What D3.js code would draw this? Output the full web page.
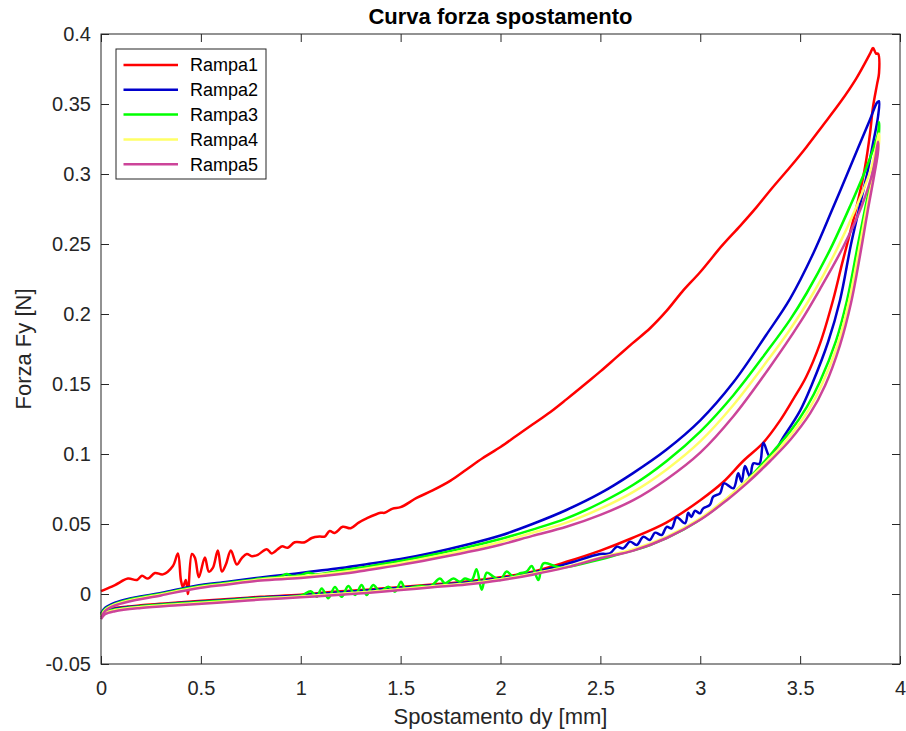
<!DOCTYPE html>
<html>
<head>
<meta charset="utf-8">
<script src="https://cdn.jsdelivr.net/npm/d3@7"></script>
<style>
  body { margin: 0; background: #fff; }
  svg { font-family: "Liberation Sans", Arial, Helvetica, sans-serif; }
</style>
</head>
<body>
<div class="vis-forza"></div>
<script>
// data: [dy mm, Fy N], loading branch then unloading branch
const rampa1 = [
  [0,0.002],[0.07,0.0064],[0.135,0.011],[0.18,0.010],[0.205,0.013],[0.235,0.011],[0.27,0.015],[0.31,0.014],
  [0.36,0.020],[0.385,0.029],[0.40,0.010],[0.41,0.005],[0.425,0.010],[0.435,0.0],[0.455,0.0286],[0.47,0.026],
  [0.49,0.012],[0.52,0.026],[0.54,0.016],[0.56,0.0186],[0.585,0.031],[0.605,0.016],[0.625,0.021],[0.65,0.031],
  [0.68,0.021],[0.705,0.0257],[0.73,0.0286],[0.755,0.027],[0.785,0.028],[0.83,0.032],[0.855,0.029],[0.905,0.034],
  [0.935,0.033],[0.97,0.037],[1.02,0.037],[1.055,0.040],[1.095,0.041],[1.12,0.041],[1.145,0.045],[1.17,0.0436],
  [1.21,0.048],[1.25,0.047],[1.29,0.051],[1.33,0.054],[1.40,0.058],[1.42,0.058],[1.46,0.061],[1.50,0.062],
  [1.58,0.0686],[1.66,0.074],[1.75,0.081],[1.83,0.089],[1.91,0.097],[2.00,0.105],[2.08,0.113],[2.16,0.121],
  [2.25,0.130],[2.33,0.139],[2.45,0.153],[2.50,0.159],[2.58,0.169],[2.66,0.179],[2.75,0.190],[2.83,0.202],
  [2.91,0.216],[3.00,0.230],[3.11,0.249],[3.20,0.263],[3.28,0.276],[3.36,0.290],[3.45,0.305],[3.53,0.319],
  [3.61,0.334],[3.70,0.351],[3.78,0.368],[3.85,0.386],[3.865,0.390],[3.88,0.386],[3.89,0.386],
  [3.895,0.372],[3.885,0.364],[3.865,0.348],[3.85,0.329],[3.825,0.305],[3.79,0.281],[3.75,0.258],[3.71,0.236],
  [3.665,0.210],[3.60,0.179],[3.53,0.155],[3.465,0.139],[3.40,0.124],[3.315,0.108],[3.215,0.095],[3.115,0.080],
  [3.00,0.067],[2.83,0.051],[2.66,0.040],[2.50,0.031],[2.33,0.023],[2.16,0.016],[2.0,0.012],[1.83,0.009],
  [1.66,0.0068],[1.5,0.005],[1.33,0.003],[1.2,0.002],[1.0,-0.0005],[0.8,-0.002],[0.6,-0.004],[0.385,-0.006],
  [0.2,-0.008],[0.135,-0.009],[0.07,-0.010],[0.02,-0.012],[0,-0.0145]
];
const rampa2 = [
  [0,-0.014],[0.02,-0.010],[0.07,-0.0062],[0.135,-0.0035],[0.3,0.0008],[0.47,0.0058],[0.635,0.0088],[0.8,0.0118],
  [0.97,0.0145],[1.2,0.0185],[1.33,0.0212],[1.5,0.025],[1.66,0.0295],[1.83,0.0352],[2.0,0.0418],[2.16,0.050],
  [2.33,0.060],[2.5,0.072],[2.66,0.086],[2.83,0.103],[3.0,0.124],[3.165,0.151],[3.33,0.185],[3.45,0.211],
  [3.565,0.243],[3.665,0.276],[3.765,0.310],[3.85,0.339],[3.885,0.351],[3.895,0.352],
  [3.89,0.341],[3.865,0.322],[3.835,0.30],[3.795,0.275],[3.755,0.25],[3.70,0.21],[3.64,0.18],[3.56,0.15],
  [3.50,0.131],[3.416,0.112],[3.35,0.098],[3.316,0.108],[3.296,0.093],[3.266,0.0933],[3.249,0.0838],[3.224,0.0914],
  [3.207,0.0802],[3.19,0.0862],[3.166,0.0755],[3.119,0.079],[3.099,0.0719],[3.065,0.0695],[3.048,0.0636],[3.015,0.0612],
  [2.998,0.0576],[2.974,0.0595],[2.955,0.055],[2.94,0.058],[2.924,0.0505],[2.882,0.0548],[2.857,0.0469],[2.832,0.048],
  [2.807,0.0421],[2.774,0.0438],[2.748,0.0386],[2.715,0.0409],[2.682,0.035],[2.648,0.0374],[2.615,0.0326],[2.582,0.0338],
  [2.548,0.029],[2.498,0.0285],[2.33,0.0215],[2.16,0.0152],[2.0,0.0112],[1.83,0.0082],[1.66,0.0062],[1.5,0.0045],
  [1.33,0.0025],[1.2,0.0013],[1.0,-0.001],[0.8,-0.0025],[0.6,-0.0045],[0.385,-0.0065],[0.2,-0.0085],[0.07,-0.0105],
  [0.02,-0.0125],[0,-0.015]
];
const rampa3 = [
  [0,-0.015],[0.02,-0.0108],[0.07,-0.007],[0.135,-0.0042],[0.3,0.0002],[0.47,0.005],[0.635,0.008],[0.8,0.011],
  [0.9,0.0125],[0.93,0.0142],[0.96,0.0128],[1.0,0.0136],[1.04,0.0152],[1.07,0.0140],[1.2,0.0168],[1.33,0.0195],
  [1.5,0.0235],[1.66,0.028],[1.83,0.0333],[2.0,0.0393],[2.16,0.046],[2.33,0.054],[2.5,0.065],[2.665,0.078],
  [2.832,0.095],[3.0,0.116],[3.166,0.142],[3.333,0.173],[3.45,0.196],[3.533,0.215],[3.65,0.246],[3.75,0.277],
  [3.833,0.305],[3.89,0.329],[3.895,0.337],
  [3.895,0.33],[3.862,0.30],[3.825,0.275],[3.79,0.25],[3.735,0.21],[3.68,0.181],[3.60,0.152],[3.533,0.1335],
  [3.45,0.116],[3.366,0.102],[3.266,0.086],[3.166,0.072],[3.048,0.058],[2.915,0.046],[2.748,0.035],
  [2.582,0.028],[2.45,0.023],[2.3,0.019],[2.215,0.0219],[2.19,0.01],[2.156,0.02],[2.131,0.016],[2.098,0.0148],
  [2.064,0.0124],[2.031,0.016],[1.998,0.01],[1.964,0.0124],[1.931,0.0152],[1.906,0.003],[1.88,0.0176],[1.856,0.01],
  [1.822,0.011],[1.797,0.0088],[1.764,0.011],[1.722,0.0076],[1.697,0.011],[1.647,0.0052],[1.6,0.0058],[1.55,0.0045],
  [1.522,0.004],[1.502,0.0088],[1.472,0.0017],[1.438,0.0052],[1.397,0.0017],[1.363,0.0064],[1.33,-0.0007],[1.305,0.0064],
  [1.272,-0.0007],[1.238,0.0057],[1.205,-0.002],[1.171,0.005],[1.138,-0.003],[1.105,0.004],[1.08,-0.002],[1.05,0.002],
  [1.0,-0.0012],[0.8,-0.0028],[0.6,-0.0048],[0.385,-0.0068],[0.2,-0.0088],[0.07,-0.011],[0.02,-0.013],[0,-0.0155]
];
const rampa4 = [
  [0,-0.016],[0.02,-0.0115],[0.07,-0.0075],[0.135,-0.0048],[0.3,-0.0003],[0.47,0.0045],[0.635,0.0075],[0.8,0.0104],
  [1.0,0.0125],[1.2,0.0155],[1.33,0.0183],[1.5,0.0222],[1.66,0.0265],[1.83,0.0315],[2.0,0.0372],[2.16,0.0438],
  [2.33,0.051],[2.5,0.061],[2.665,0.073],[2.832,0.089],[3.0,0.109],[3.166,0.135],[3.333,0.166],[3.44,0.187],
  [3.566,0.215],[3.683,0.246],[3.783,0.277],[3.858,0.305],[3.895,0.329],
  [3.895,0.322],[3.868,0.30],[3.832,0.275],[3.80,0.25],[3.745,0.209],[3.69,0.179],[3.61,0.150],[3.54,0.131],
  [3.45,0.113],[3.35,0.097],[3.233,0.081],[3.133,0.0685],[3.0,0.054],[2.832,0.041],[2.665,0.032],
  [2.498,0.026],[2.33,0.0195],[2.16,0.0145],[2.0,0.0105],[1.83,0.0075],[1.66,0.0055],[1.5,0.0035],[1.33,0.0015],
  [1.2,0.0002],[1.0,-0.0017],[0.8,-0.0033],[0.6,-0.0053],[0.385,-0.0073],[0.2,-0.0093],[0.07,-0.0115],[0.02,-0.0135],
  [0,-0.0165]
];
const rampa5 = [
  [0,-0.017],[0.02,-0.0122],[0.07,-0.0082],[0.135,-0.0055],[0.3,-0.001],[0.47,0.0038],[0.635,0.0068],[0.8,0.0096],
  [1.0,0.0114],[1.2,0.0143],[1.33,0.017],[1.5,0.0208],[1.66,0.025],[1.83,0.0298],[2.0,0.0352],[2.16,0.0415],
  [2.33,0.048],[2.5,0.0565],[2.665,0.067],[2.832,0.082],[3.0,0.101],[3.166,0.127],[3.333,0.159],[3.5,0.194],
  [3.6,0.218],[3.716,0.248],[3.808,0.277],[3.866,0.303],[3.89,0.323],
  [3.89,0.316],[3.872,0.30],[3.84,0.275],[3.81,0.25],[3.755,0.208],[3.70,0.178],[3.625,0.149],[3.55,0.129],
  [3.45,0.110],[3.35,0.095],[3.233,0.079],[3.133,0.067],[3.0,0.053],[2.832,0.040],[2.665,0.031],
  [2.498,0.0255],[2.33,0.019],[2.16,0.0138],[2.0,0.0098],[1.83,0.0068],[1.66,0.0048],[1.5,0.0028],[1.33,0.0008],
  [1.2,-0.0005],[1.0,-0.0024],[0.8,-0.004],[0.6,-0.006],[0.385,-0.008],[0.2,-0.010],[0.07,-0.0123],[0.02,-0.0145],
  [0,-0.018]
];

const seriesNames = ['Rampa1', 'Rampa2', 'Rampa3', 'Rampa4', 'Rampa5'];
const seriesData = [rampa1, rampa2, rampa3, rampa4, rampa5];
const xTicks = [0, 0.5, 1, 1.5, 2, 2.5, 3, 3.5, 4];
const xTickLabels = ['0', '0.5', '1', '1.5', '2', '2.5', '3', '3.5', '4'];
const yTicks = [-0.05, 0, 0.05, 0.1, 0.15, 0.2, 0.25, 0.3, 0.35, 0.4];
const yTickLabels = ['-0.05', '0', '0.05', '0.1', '0.15', '0.2', '0.25', '0.3', '0.35', '0.4'];

const margin = { top: 34, right: 6, bottom: 67, left: 101 };
const W = 906, H = 731;
const width = W - margin.left - margin.right;
const height = H - margin.top - margin.bottom;
const axisColor = '#262626';

const color = d3.scaleOrdinal()
    .domain(seriesNames)
    .range(['#ff0000', '#0000cc', '#00ff00', '#ffff66', '#cc4499']);

const svg = d3.select('.vis-forza')
    .append('svg')
    .attr('width', W)
    .attr('height', H);

const g = svg.append('g')
    .attr('transform', 'translate(' + margin.left + ',' + margin.top + ')');

const x = d3.scaleLinear().domain([0, 4]).range([0, width]);
const y = d3.scaleLinear().domain([-0.05, 0.4]).range([height, 0]);

// curves
const line = d3.line()
    .x(d => x(d[0]))
    .y(d => y(d[1]))
    .curve(d3.curveCatmullRom.alpha(0.5));

g.append('g')
    .selectAll('path')
    .data(seriesData)
    .enter()
    .append('path')
    .attr('d', line)
    .attr('fill', 'none')
    .attr('stroke', (d, i) => color(seriesNames[i]))
    .attr('stroke-width', 2.5)
    .attr('stroke-linejoin', 'round');

// axes, ticks inside on all four sides
const tickLen = 8;
const fmtX = d => xTickLabels[xTicks.indexOf(d)];
const fmtY = d => yTickLabels[yTicks.indexOf(d)];

const axes = [
    { ax: d3.axisBottom(x).tickValues(xTicks).tickFormat(fmtX).tickPadding(17), tr: 'translate(0,' + height + ')' },
    { ax: d3.axisTop(x).tickValues(xTicks).tickFormat(''), tr: 'translate(0,0)' },
    { ax: d3.axisLeft(y).tickValues(yTicks).tickFormat(fmtY).tickPadding(10), tr: 'translate(0,0)' },
    { ax: d3.axisRight(y).tickValues(yTicks).tickFormat(''), tr: 'translate(' + width + ',0)' }
];
axes.forEach(a => {
    const ag = g.append('g')
        .attr('transform', a.tr)
        .call(a.ax.tickSizeInner(-tickLen).tickSizeOuter(0));
    ag.select('.domain').remove();
    ag.selectAll('line').attr('stroke', axisColor).attr('stroke-width', 1);
    ag.selectAll('text').attr('fill', axisColor).style('font-size', '20px');
});

g.append('rect')
    .attr('width', width)
    .attr('height', height)
    .attr('fill', 'none')
    .attr('stroke', axisColor)
    .attr('stroke-width', 1);

// labels
svg.append('text')
    .attr('x', margin.left + width / 2)
    .attr('y', 24)
    .attr('text-anchor', 'middle')
    .style('font-size', '22px')
    .style('font-weight', 'bold')
    .attr('fill', '#000')
    .text('Curva forza spostamento');

svg.append('text')
    .attr('x', margin.left + width / 2)
    .attr('y', 724)
    .attr('text-anchor', 'middle')
    .style('font-size', '22px')
    .attr('fill', axisColor)
    .text('Spostamento dy [mm]');

svg.append('text')
    .attr('transform', 'translate(31,' + (margin.top + height / 2) + ') rotate(-90)')
    .attr('text-anchor', 'middle')
    .style('font-size', '22px')
    .attr('fill', axisColor)
    .text('Forza Fy [N]');

// legend
const legend = svg.append('g')
    .attr('transform', 'translate(116,49)');

legend.append('rect')
    .attr('width', 150)
    .attr('height', 130)
    .attr('fill', '#fff')
    .attr('stroke', axisColor)
    .attr('stroke-width', 1);

const legendG = legend.selectAll('.legend')
    .data(seriesNames)
    .enter().append('g')
    .attr('class', 'legend')
    .attr('transform', (d, i) => 'translate(0,' + (16 + i * 24.8) + ')');

legendG.append('line')
    .attr('x1', 7.5)
    .attr('x2', 62)
    .attr('stroke', d => color(d))
    .attr('stroke-width', 2.5);

legendG.append('text')
    .text(d => d)
    .attr('x', 74)
    .attr('dy', '0.35em')
    .style('font-size', '18px')
    .attr('fill', '#000');
</script>
</body>
</html>
